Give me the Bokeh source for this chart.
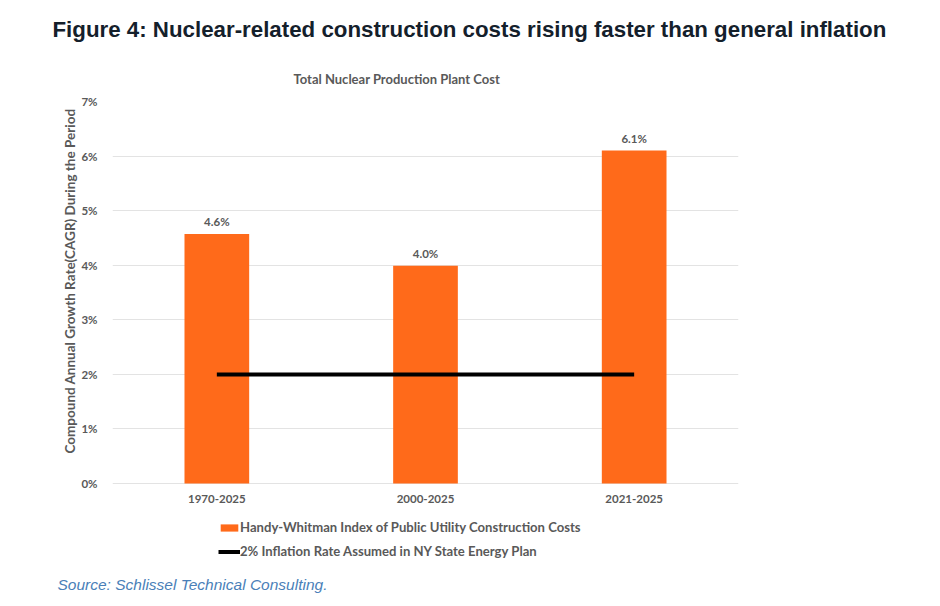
from bokeh.plotting import figure
from bokeh.models import (ColumnDataSource, LabelSet, Legend, LegendItem,
                          NumeralTickFormatter, FixedTicker, Range1d, Title)
from bokeh.core.properties import value
from bokeh.embed import file_html
from bokeh.resources import INLINE

periods = ["1970-2025", "2000-2025", "2021-2025"]
cagr = [4.57, 3.99, 6.10]
cagr_labels = ["4.6%", "4.0%", "6.1%"]
inflation = [2.0, 2.0, 2.0]
y_ticks = [0, 1, 2, 3, 4, 5, 6, 7]

ORANGE = "#FF6A1A"
GREY = "#595959"

src = ColumnDataSource(dict(period=periods, cagr=cagr, lab=cagr_labels,
                            base=[0, 0, 0]))

# frame extends below 0 so the legend can sit inside it
p = figure(x_range=periods, y_range=Range1d(-1.63, 7), width=940, height=606,
           title=None, output_backend="svg", toolbar_location=None,
           min_border_left=112, min_border_right=202,
           min_border_top=101, min_border_bottom=34)
p.outline_line_color = None
p.background_fill_color = "white"
p.border_fill_color = "white"

bars = p.vbar(x="period", top="cagr", width=0.31, source=src,
              fill_color=ORANGE, line_color=None)
line = p.line(x=periods, y=inflation, line_color="black", line_width=4)

label_font = dict(text_font=value("Lato"), text_font_style="bold",
                  text_font_size="11.5px", text_color=GREY)
p.add_layout(LabelSet(x="period", y="cagr", text="lab", source=src,
                      y_offset=6, text_align="center", text_baseline="bottom",
                      **label_font))
# category labels under the 0 line
p.add_layout(LabelSet(x="period", y="base", text="period", source=src,
                      y_offset=-11, text_align="center", text_baseline="top",
                      **label_font))

# axes
p.xaxis.visible = False
p.yaxis.ticker = FixedTicker(ticks=y_ticks)
p.yaxis.formatter = NumeralTickFormatter(format="0")
p.yaxis.major_label_overrides = {t: f"{t}%" for t in y_ticks}
p.yaxis.axis_line_color = None
p.yaxis.major_tick_line_color = None
p.yaxis.minor_tick_line_color = None
p.yaxis.major_label_standoff = 9
p.yaxis.major_label_text_font = "Lato"
p.yaxis.major_label_text_font_style = "bold"
p.yaxis.major_label_text_font_size = "11.5px"
p.yaxis.major_label_text_color = GREY
p.xgrid.grid_line_color = None
p.ygrid.ticker = FixedTicker(ticks=y_ticks)
p.ygrid.grid_line_color = "#e3e3e3"

# titles (first added is closest to the frame)
p.add_layout(Title(text="Total Nuclear Production Plant Cost", align="left",
                   offset=181, standoff=29, text_font="Lato",
                   text_font_style="bold", text_font_size="13px",
                   text_color=GREY), "above")
p.add_layout(Title(text="Figure 4: Nuclear-related construction costs rising faster than general inflation",
                   align="left", offset=-60, standoff=26,
                   text_font="Liberation Sans", text_font_style="bold",
                   text_font_size="22.3px", text_color="#14202b"), "above")
p.add_layout(Title(text="Compound Annual Growth Rate(CAGR) During the Period",
                   align="left", offset=119, standoff=1, text_font="Lato",
                   text_font_style="bold", text_font_size="13.5px",
                   text_color=GREY), "left")

# legend
legend = Legend(items=[
    LegendItem(label="Handy-Whitman Index of Public Utility Construction Costs", renderers=[bars]),
    LegendItem(label="2% Inflation Rate Assumed in NY State Energy Plan", renderers=[line]),
], location=(106, 11), orientation="vertical", background_fill_alpha=0,
    border_line_color=None, label_text_font="Lato", label_text_font_style="bold",
    label_text_font_size="13.1px", label_text_color=GREY, glyph_width=22,
    glyph_height=9, label_height=20, spacing=4, label_standoff=0,
    padding=0, margin=0)
p.add_layout(legend, "center")

p.add_layout(Title(text="Source: Schlissel Technical Consulting.", align="left",
                   offset=-55, standoff=2, text_font="Liberation Sans",
                   text_font_style="italic", text_font_size="15.5px",
                   text_color="#4a7fb8"), "below")

open("out.html", "w").write(file_html(p, INLINE))
